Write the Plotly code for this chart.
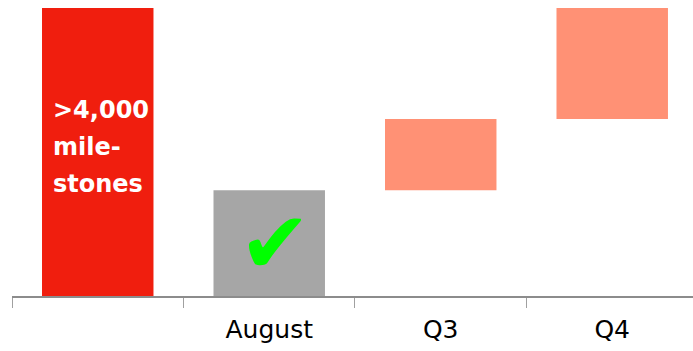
import plotly.graph_objects as go

categories = [" ", "August", "Q3", "Q4"]
target_total = 4000
increments = [1470, 990, 1540]
bar_colors = ["#F01E0E", "#A6A6A6", "#FF9175", "#FF9175"]
target_lines = [">4,000", "mile-", "stones"]

values = [target_total] + increments
bases = [0]
run = 0
for v in increments:
    bases.append(run)
    run += v

fig = go.Figure()
fig.add_trace(go.Bar(
    x=categories, y=values, base=bases,
    marker=dict(color=bar_colors, line=dict(width=0)),
    width=0.65, hoverinfo="skip", showlegend=False,
))

# text inside the target bar
line_ys = [0.592, 0.463, 0.335]
for txt, yy in zip(target_lines, line_ys):
    fig.add_annotation(
        x=categories[0], y=yy, xref="x", yref="paper",
        text=txt, showarrow=False, xanchor="left", yanchor="bottom",
        xshift=-47,
        font=dict(family="DejaVu Sans", size=24, color="white", weight="bold"),
    )

# check mark on August
fig.add_annotation(
    x=categories[1], y=0.185, xref="x", yref="paper",
    text="✔", showarrow=False, xanchor="center", yanchor="middle",
    xshift=6,
    font=dict(family="DejaVu Sans", size=86, color="#00FF00"),
)

fig.update_layout(
    width=693, height=351,
    margin=dict(l=12, r=0, t=8, b=55),
    paper_bgcolor="white", plot_bgcolor="white",
    bargap=0.35,
    xaxis=dict(
        range=[-0.5, 3.471],
        showline=True, linecolor="#8C8C8C", linewidth=2,
        ticks="outside", tickson="boundaries", ticklen=10,
        tickcolor="#A0A0A0", tickwidth=1,
        showgrid=False, zeroline=False,
        ticklabelstandoff=10,
        tickfont=dict(family="DejaVu Sans", size=25, color="black"),
    ),
    yaxis=dict(
        range=[0, target_total], visible=False, showgrid=False, zeroline=False,
    ),
)

fig.write_html("out.html")
